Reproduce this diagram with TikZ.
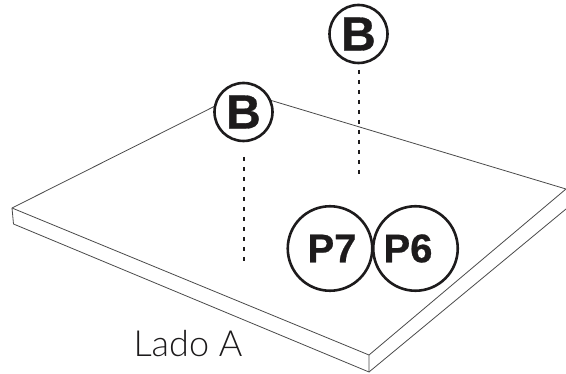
\documentclass[tikz,border=0pt]{standalone}
\usepackage{fontspec}
\setmainfont{Liberation Sans}[BoldFeatures={FakeBold=0.6}]
\newfontfamily\ladofont{Lato Light}
\definecolor{ink}{HTML}{1D1B1C}
\definecolor{edge}{HTML}{4A4A4A}
\tikzset{
  plate/.style={draw=edge,line width=0.8pt,line join=round},
  callout/.style={circle,draw=ink,fill=white,line width=2.6pt,inner sep=0pt,text=ink,font=\fontsize{48}{48}\selectfont\bfseries},
  part/.style={circle,draw=ink,fill=white,line width=2.6pt,inner sep=0pt,text=ink,font=\fontsize{40}{40}\selectfont\bfseries},
  guide/.style={draw=ink,line width=2.2pt,dash pattern=on 3.6pt off 6.4pt},
}
\begin{document}
\begin{tikzpicture}[x=1pt,y=-1pt]
\useasboundingbox (0,0) rectangle (566,374);
\coordinate (L) at (12,208);
\coordinate (Lb) at (13.5,224);
\coordinate (F) at (369,355);
\coordinate (Fb) at (369,372);
\coordinate (R) at (566,189);
\coordinate (Rb) at (566,209);
\coordinate (K) at (243,92);
\coordinate (g1a) at (244,157);
\coordinate (g1b) at (244,262);
\coordinate (g2a) at (358.7,70);
\coordinate (g2b) at (358.7,176);
\draw[plate] (L) -- (K) -- (R) -- (F) -- cycle;
\draw[plate] (L) -- (Lb) -- (Fb) -- (F);
\draw[plate] (Fb) -- (Rb);
\draw[guide] (g1a) -- (g1b);
\draw[guide] (g2a) -- (g2b);
\node[callout,minimum size=58pt] (b1) at (243.5,112) {B};
\node[callout,minimum size=58pt] (b2) at (358.5,34) {B};
\node[part,minimum size=84.5pt] (p7) at (330,248.5) {\hspace{4pt}P7};
\node[part,minimum size=84.5pt] (p6) at (415.5,248.5) {P6\kern15pt};
\node[font=\ladofont\fontsize{36}{36}\selectfont,text=ink,anchor=center] (lado) at (188,344) {Lado A};
\end{tikzpicture}
\end{document}
